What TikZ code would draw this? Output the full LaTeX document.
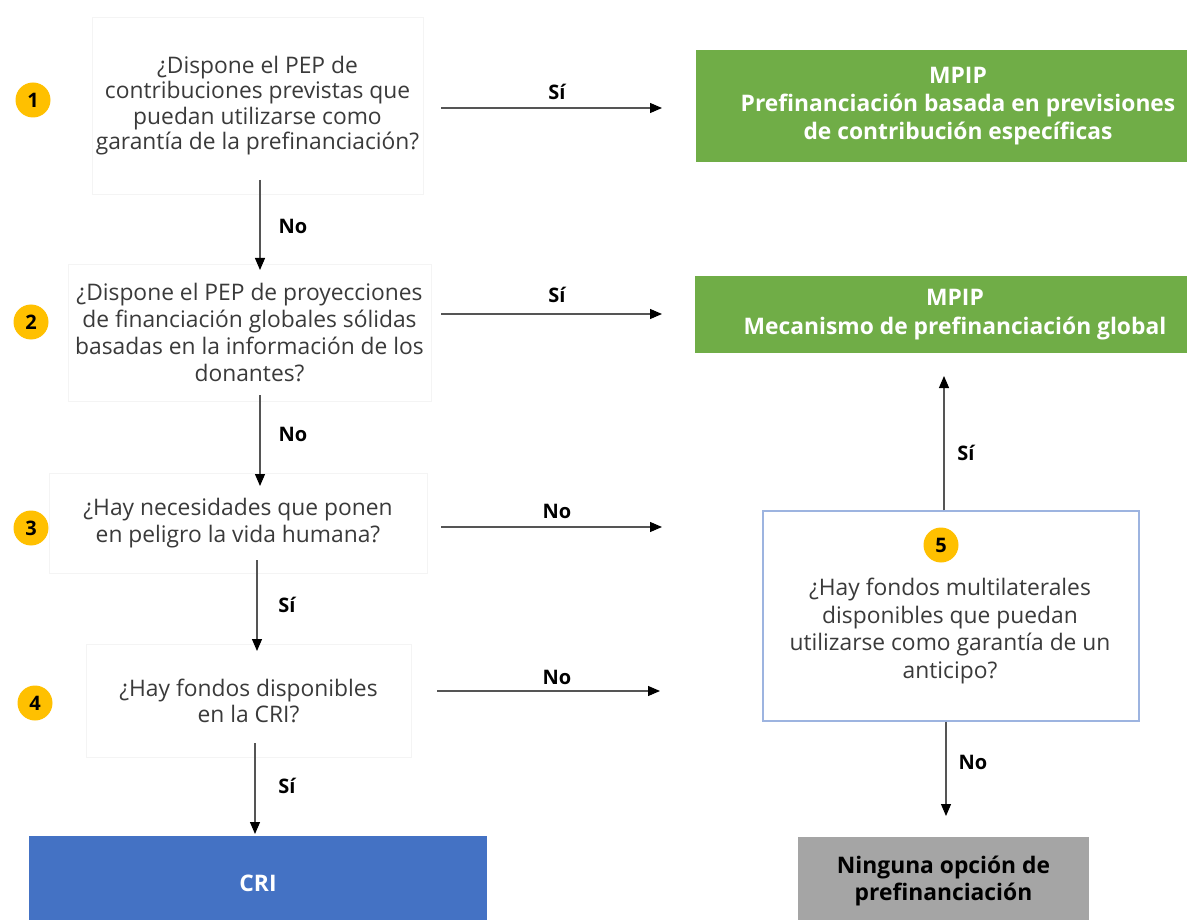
\documentclass[tikz,border=0pt]{standalone}
\usepackage{fontspec}
\setmainfont{Open Sans}
\usetikzlibrary{arrows.meta}
\definecolor{qgreen}{HTML}{70AD47}
\definecolor{qblue}{HTML}{4472C4}
\definecolor{qgray}{HTML}{A5A5A5}
\definecolor{qyellow}{HTML}{FFC000}
\definecolor{qtext}{HTML}{3A3A3A}
\definecolor{qline}{HTML}{555555}
\definecolor{qfaint}{HTML}{F4F4F4}
\definecolor{qborder}{HTML}{9DB4E0}
\tikzset{
  qbox/.style={draw=qfaint, line width=0.8pt, rectangle, align=center, text=qtext,
    font=\fontsize{22.8}{25.5}\selectfont, inner sep=0pt},
  resbox/.style={rectangle, align=center, inner sep=0pt, font=\bfseries\fontsize{22.8}{28}\selectfont},
  numc/.style={circle, fill=qyellow, minimum size=35pt, inner sep=0pt, font=\bfseries\fontsize{20}{20}\selectfont},
  arr/.style={draw=qline, line width=1.1pt, -{Triangle[length=12pt,width=10pt,color=black]}},
  lab/.style={font=\bfseries\fontsize{20}{20}\selectfont, text=black}
}
\begin{document}
\begin{tikzpicture}[x=1pt,y=-1pt]
\clip (0,0) rectangle (1187,920);
\fill[white] (0,0) rectangle (1187,920);

% question boxes
\node[qbox, minimum width=331pt, minimum height=177pt] (b1) at (257.5,105.5)
  {¿Dispone el PEP de\\contribuciones previstas que\\puedan utilizarse como\\garantía de la prefinanciación?};
\node[qbox, minimum width=363pt, minimum height=137pt, font=\fontsize{22.8}{27}\selectfont] (b2) at (249.5,332.5)
  {¿Dispone el PEP de proyecciones\\de financiación globales sólidas\\basadas en la información de los\\donantes?};
\node[qbox, minimum width=378pt, minimum height=100pt, font=\fontsize{22.8}{27}\selectfont] (b3) at (238,523)
  {¿Hay necesidades que ponen\\en peligro la vida humana?};
\node[qbox, minimum width=325pt, minimum height=113pt, font=\fontsize{22.8}{26}\selectfont] (b4) at (248.5,700.5)
  {¿Hay fondos disponibles\\en la CRI?};
\node[draw=qborder, line width=1.2pt, rectangle, minimum width=376pt, minimum height=210pt] (b5) at (951,616) {};
\node[qbox, draw=none, font=\fontsize{22.8}{27.7}\selectfont] (t5) at (950,631)
  {¿Hay fondos multilaterales\\disponibles que puedan\\utilizarse como garantía de un\\anticipo?};

% numbers
\node[numc] (n1) at (33,100) {1};
\node[numc] (n2) at (31,322) {2};
\node[numc] (n3) at (31,528) {3};
\node[numc] (n4) at (35,703) {4};
\node[numc] (n5) at (941,545) {5};

% result boxes
\node[resbox, fill=qgreen, text=white, minimum width=524pt, minimum height=112pt] (g1) at (958,106)
  {MPIP\\Prefinanciación basada en previsiones\\de contribución específicas};
\node[resbox, fill=qgreen, text=white, minimum width=520pt, minimum height=77pt, font=\bfseries\fontsize{22.8}{29}\selectfont] (g2) at (955,314.5)
  {MPIP\\Mecanismo de prefinanciación global};
\node[resbox, fill=qblue, text=white, minimum width=458pt, minimum height=94pt] (cri) at (258,883) {CRI};
\node[resbox, fill=qgray, text=black, minimum width=291pt, minimum height=88pt, font=\bfseries\fontsize{22.8}{27}\selectfont] (none) at (943.5,881)
  {Ninguna opción de\\prefinanciación};

% connector end points
\coordinate (v1s) at (260,180); \coordinate (v1e) at (260,270);
\coordinate (v2s) at (260,395); \coordinate (v2e) at (260,486);
\coordinate (v3s) at (257,560); \coordinate (v3e) at (257,651);
\coordinate (v4s) at (255,743); \coordinate (v4e) at (255,834);
\coordinate (h1s) at (441,108); \coordinate (h1e) at (662,108);
\coordinate (h2s) at (441,314); \coordinate (h2e) at (662,314);
\coordinate (h3s) at (441,527); \coordinate (h3e) at (662,527);
\coordinate (h4s) at (437,691); \coordinate (h4e) at (660,691);
\coordinate (u5e) at (944,376);
\coordinate (d5e) at (946,816);

% connectors
\draw[arr] (v1s) -- (v1e);
\draw[arr] (v2s) -- (v2e);
\draw[arr] (v3s) -- (v3e);
\draw[arr] (v4s) -- (v4e);
\draw[arr] (h1s) -- (h1e);
\draw[arr] (h2s) -- (h2e);
\draw[arr] (h3s) -- (h3e);
\draw[arr] (h4s) -- (h4e);
\draw[arr] (b5.north -| u5e) -- (u5e);
\draw[arr] (b5.south -| d5e) -- (d5e);

% labels
\node[lab] (l1) at (293,226) {No};
\node[lab] (l2) at (293,434) {No};
\node[lab] (l3) at (287,605) {Sí};
\node[lab] (l4) at (287,786) {Sí};
\node[lab] (l5) at (557,92) {Sí};
\node[lab] (l6) at (557,295) {Sí};
\node[lab] (l7) at (557,511) {No};
\node[lab] (l8) at (557,677) {No};
\node[lab] (l9) at (966,453) {Sí};
\node[lab] (l10) at (973,762) {No};
\end{tikzpicture}
\end{document}
